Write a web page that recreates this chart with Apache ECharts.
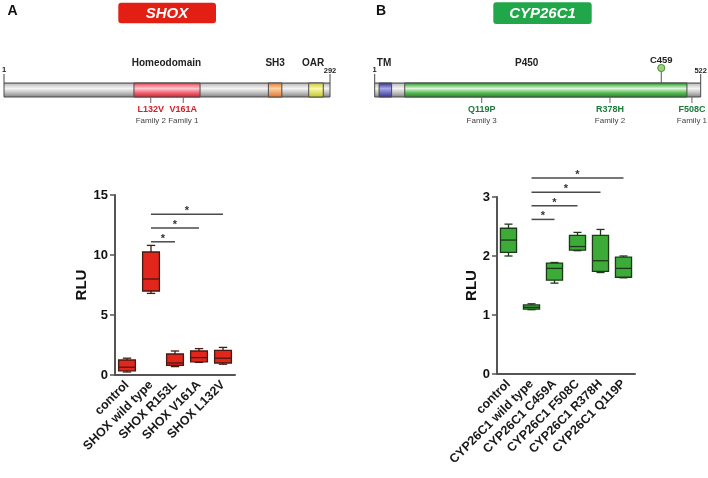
<!DOCTYPE html>
<html><head><meta charset="utf-8">
<script src="https://cdn.jsdelivr.net/npm/echarts@6/dist/echarts.min.js"></script>
<style>html,body{margin:0;padding:0;background:#fff}#c{width:708px;height:478px}</style>
</head><body><div id="c"></div>
<script>
// ---------- Data: luciferase assays ----------
const shoxCategories = ['control', 'SHOX wild type', 'SHOX R153L', 'SHOX V161A', 'SHOX L132V'];
// [min, Q1, median, Q3, max]
const shoxStats = [
  [0.25, 0.35, 0.65, 1.25, 1.4],
  [6.8, 7.0, 8.0, 10.25, 10.8],
  [0.7, 0.8, 1.0, 1.75, 2.0],
  [1.05, 1.1, 1.45, 2.0, 2.2],
  [0.9, 1.0, 1.4, 2.05, 2.3]
];
const shoxSigPairs = [[1, 2], [1, 3], [1, 4]];
const shoxSigLevels = [11.1, 12.25, 13.4];
const shoxTicks = [0, 5, 10, 15];

const cypCategories = ['control', 'CYP26C1 wild type', 'CYP26C1 C459A', 'CYP26C1 F508C', 'CYP26C1 R378H', 'CYP26C1 Q119P'];
const cypStats = [
  [2.0, 2.06, 2.27, 2.47, 2.54],
  [1.09, 1.10, 1.13, 1.17, 1.19],
  [1.54, 1.59, 1.79, 1.88, 1.89],
  [2.09, 2.10, 2.16, 2.35, 2.40],
  [1.72, 1.74, 1.92, 2.35, 2.45],
  [1.63, 1.64, 1.79, 1.98, 2.0]
];
const cypSigPairs = [[1, 2], [1, 3], [1, 4], [1, 5]];
const cypSigLevels = [2.62, 2.85, 3.08, 3.32];
const cypTicks = [0, 1, 2, 3];

// ---------- Data: protein schematics ----------
const shoxLength = 292;
const shoxDomainNames = ['Homeodomain', 'SH3', 'OAR'];
const shoxDomainStart = [117, 237, 273];
const shoxDomainEnd = [176, 249, 286];
const shoxDomainLabelPos = [146, 243, 277];
const shoxMutNames = ['L132V', 'V161A'];
const shoxMutPos = [132, 161];
const shoxMutFamily = ['Family 2', 'Family 1'];

const cypLength = 522;
const cypDomainNames = ['TM', 'P450'];
const cypDomainStart = [8, 49];
const cypDomainEnd = [28, 500];
const cypDomainLabelPos = [16, 244];
const cypMutNames = ['Q119P', 'R378H', 'F508C'];
const cypMutPos = [172, 377, 508];
const cypMutFamily = ['Family 3', 'Family 2', 'Family 1'];
const cypSiteNames = ['C459'];
const cypSitePos = [459];

// ---------- Styles ----------
const FONT = '"Liberation Sans", Arial, sans-serif';
const G = echarts.graphic;
function grad(stops) { return new G.LinearGradient(0, 0, 0, 1, stops.map(c => ({ offset: c[0], color: c[1] }))); }
const greyGrad = () => grad([[0, '#7a7a7a'], [0.12, '#c6c6c6'], [0.4, '#f4f4f4'], [0.7, '#bdbdbd'], [1, '#7c7c7c']]);
const shoxDomainGrads = [
  () => grad([[0, '#d8202e'], [0.14, '#f06a78'], [0.4, '#ffc8ce'], [0.7, '#f0606e'], [1, '#cf1c2c']]),
  () => grad([[0, '#e0742e'], [0.4, '#ffd0a0'], [1, '#e0702a']]),
  () => grad([[0, '#c4c42a'], [0.4, '#fafaa8'], [1, '#c2c226']])
];
const cypDomainGrads = [
  () => grad([[0, '#2a2a88'], [0.4, '#a8a8e4'], [1, '#303096']]),
  () => grad([[0, '#187a26'], [0.14, '#58b85a'], [0.4, '#def6da'], [0.7, '#56b852'], [1, '#1e8226']])
];
const mutColorA = '#d3202a';
const mutColorB = '#1b7a3c';

// ---------- Renderers ----------
const txt = (x, y, text, fill, size, weight) => ({ type: 'text', x: x, y: y, style: { text: text, fill: fill, fontSize: size, fontWeight: weight || 'normal', fontFamily: FONT, align: 'center', verticalAlign: 'middle', textAlign: 'center', textVerticalAlign: 'middle' } });
function backboneSeries(gi, len) {
  return {
    type: 'custom', xAxisIndex: gi, yAxisIndex: gi, silent: true, clip: false, animation: false,
    data: [[1, len]],
    renderItem: function (p, api) {
      const a = api.coord([api.value(0), 1]);
      const b = api.coord([api.value(1), 0]);
      return { type: 'group', children: [
        { type: 'rect', shape: { x: a[0], y: a[1], width: b[0] - a[0], height: b[1] - a[1] }, style: { fill: greyGrad(), stroke: '#4a4a4a', lineWidth: 1 } },
        { type: 'line', shape: { x1: a[0], y1: a[1] - 9, x2: a[0], y2: a[1] }, style: { stroke: '#444', lineWidth: 1 } },
        { type: 'line', shape: { x1: b[0], y1: a[1] - 9, x2: b[0], y2: a[1] }, style: { stroke: '#444', lineWidth: 1 } },
        txt(a[0], a[1] - 13, String(api.value(0)), '#222', 7.5, 'bold'),
        txt(b[0], a[1] - 12, String(api.value(1)), '#222', 7.5, 'bold')
      ] };
    }
  };
}
function domainSeries(gi, starts, ends, grads) {
  return {
    type: 'custom', xAxisIndex: gi, yAxisIndex: gi, silent: true, clip: false, animation: false,
    data: starts.map((s, i) => [s, ends[i]]),
    renderItem: function (p, api) {
      const a = api.coord([api.value(0), 1]);
      const b = api.coord([api.value(1), 0]);
      return { type: 'rect', shape: { x: a[0], y: a[1], width: b[0] - a[0], height: b[1] - a[1] }, style: { fill: grads[p.dataIndex](), stroke: '#4a4a4a', lineWidth: 1 } };
    }
  };
}
function labelSeries(gi, pos, names, dy, size) {
  return {
    type: 'custom', xAxisIndex: gi, yAxisIndex: gi, silent: true, clip: false, animation: false,
    data: pos.map(v => [v, 1]),
    renderItem: function (p, api) {
      const a = api.coord([api.value(0), 1]);
      return txt(a[0], a[1] + dy, names[p.dataIndex], '#222', size, 'bold');
    }
  };
}
function mutationSeries(gi, pos, names, fams, color) {
  return {
    type: 'custom', xAxisIndex: gi, yAxisIndex: gi, silent: true, clip: false, animation: false,
    data: pos.map(v => [v, 0]),
    renderItem: function (p, api) {
      const a = api.coord([api.value(0), 0]);
      return { type: 'group', children: [
        { type: 'line', shape: { x1: a[0], y1: a[1], x2: a[0], y2: a[1] + 6 }, style: { stroke: '#666', lineWidth: 1 } },
        txt(a[0], a[1] + 12.5, names[p.dataIndex], color, 9, 'bold'),
        txt(a[0], a[1] + 24, fams[p.dataIndex], '#444', 8)
      ] };
    }
  };
}
function siteSeries(gi, pos, names) {
  return {
    type: 'custom', xAxisIndex: gi, yAxisIndex: gi, silent: true, clip: false, animation: false,
    data: pos.map(v => [v, 1]),
    renderItem: function (p, api) {
      const a = api.coord([api.value(0), 1]);
      return { type: 'group', children: [
        { type: 'line', shape: { x1: a[0], y1: a[1], x2: a[0], y2: a[1] - 12 }, style: { stroke: '#555', lineWidth: 1 } },
        { type: 'circle', shape: { cx: a[0], cy: a[1] - 15, r: 3.6 }, style: { fill: '#9ad07a', stroke: '#4d8f3d', lineWidth: 1 } },
        txt(a[0], a[1] - 23, names[p.dataIndex], '#222', 9.5, 'bold')
      ] };
    }
  };
}
function boxSeries(gi, stats, fill, stroke) {
  return {
    type: 'custom', xAxisIndex: gi, yAxisIndex: gi, silent: true, animation: false, clip: false,
    data: stats.map((s, i) => [i].concat(s)),
    renderItem: function (p, api) {
      const i = api.value(0);
      const band = api.size([1, 0])[0];
      const w = band * 0.7, cw = w * 0.5;
      const cx = api.coord([i, 0])[0];
      const y = v => api.coord([i, v])[1];
      const mn = y(api.value(1)), q1 = y(api.value(2)), md = y(api.value(3)), q3 = y(api.value(4)), mx = y(api.value(5));
      const ls = { stroke: stroke, lineWidth: 1.3 };
      return { type: 'group', children: [
        { type: 'line', shape: { x1: cx, y1: mx, x2: cx, y2: q3 }, style: ls },
        { type: 'line', shape: { x1: cx, y1: q1, x2: cx, y2: mn }, style: ls },
        { type: 'line', shape: { x1: cx - cw / 2, y1: mx, x2: cx + cw / 2, y2: mx }, style: ls },
        { type: 'line', shape: { x1: cx - cw / 2, y1: mn, x2: cx + cw / 2, y2: mn }, style: ls },
        { type: 'rect', shape: { x: cx - w / 2, y: q3, width: w, height: q1 - q3 }, style: { fill: fill, stroke: stroke, lineWidth: 1.3 } },
        { type: 'line', shape: { x1: cx - w / 2, y1: md, x2: cx + w / 2, y2: md }, style: ls }
      ] };
    }
  };
}
function sigSeries(gi, pairs, levels) {
  return {
    type: 'custom', xAxisIndex: gi, yAxisIndex: gi, silent: true, animation: false, clip: false,
    data: pairs.map((pr, i) => [pr[0], levels[i], pr[1]]),
    renderItem: function (p, api) {
      const a = api.coord([api.value(0), api.value(1)]);
      const b = api.coord([api.value(2), api.value(1)]);
      return { type: 'group', children: [
        { type: 'line', shape: { x1: a[0], y1: a[1], x2: b[0], y2: b[1] }, style: { stroke: '#4a4a4a', lineWidth: 1.5 } },
        txt((a[0] + b[0]) / 2, a[1] - 3, '*', '#333', 11, 'bold')
      ] };
    }
  };
}

// ---------- Axes ----------
const hiddenX = (gi, max) => ({ gridIndex: gi, type: 'value', min: 1, max: max, show: false });
const hiddenY = (gi) => ({ gridIndex: gi, type: 'value', min: 0, max: 1, show: false });
const axisLineStyle = { color: '#555', width: 2 };
function catAxis(gi, cats) {
  return {
    gridIndex: gi, type: 'category', data: cats, boundaryGap: true,
    axisLine: { lineStyle: axisLineStyle },
    axisTick: { alignWithLabel: true, length: 5, lineStyle: { color: '#555', width: 1.5 } },
    axisLabel: { rotate: 45, interval: 0, fontSize: 12.5, fontWeight: 'bold', color: '#1a1a1a', fontFamily: FONT, margin: 8 }
  };
}
function valAxis(gi, ticks, gap) {
  return {
    gridIndex: gi, type: 'value', min: ticks[0], max: ticks[ticks.length - 1], interval: ticks[1] - ticks[0],
    axisLine: { show: true, lineStyle: axisLineStyle },
    axisTick: { show: true, length: 5, lineStyle: { color: '#555', width: 1.5 } },
    splitLine: { show: false },
    axisLabel: { fontSize: 13, fontWeight: 'bold', color: '#111', fontFamily: FONT, margin: 7 },
    name: 'RLU', nameLocation: 'middle', nameGap: gap,
    nameTextStyle: { fontSize: 15, fontWeight: 'bold', color: '#111', fontFamily: FONT }
  };
}

const chart = echarts.init(document.getElementById('c'), null, { renderer: 'canvas' });
chart.setOption({
  animation: false,
  backgroundColor: '#fff',
  grid: [
    { left: 4, top: 83, width: 326, height: 14 },
    { left: 374.7, top: 83, width: 326, height: 14 },
    { left: 115, top: 195, width: 120, height: 180 },
    { left: 497, top: 197, width: 138, height: 177 }
  ],
  xAxis: [hiddenX(0, shoxLength), hiddenX(1, cypLength), catAxis(2, shoxCategories), catAxis(3, cypCategories)],
  yAxis: [hiddenY(0), hiddenY(1), valAxis(2, shoxTicks, 26), valAxis(3, cypTicks, 17)],
  graphic: [
    { type: 'text', x: 12.5, y: 11, style: { text: 'A', fill: '#111', font: 'bold 14px ' + FONT, textAlign: 'center', textVerticalAlign: 'middle' } },
    { type: 'text', x: 381, y: 11, style: { text: 'B', fill: '#111', font: 'bold 14px ' + FONT, textAlign: 'center', textVerticalAlign: 'middle' } },
    { type: 'rect', shape: { x: 118.3, y: 2.7, width: 97.7, height: 20.6, r: 3 }, style: { fill: '#e31e13' } },
    { type: 'text', x: 167, y: 13.5, style: { text: 'SHOX', fill: '#fff', font: 'italic bold 15px ' + FONT, textAlign: 'center', textVerticalAlign: 'middle' } },
    { type: 'rect', shape: { x: 493.3, y: 2.3, width: 98.4, height: 21.7, r: 3 }, style: { fill: '#22a64a' } },
    { type: 'text', x: 542.5, y: 13.5, style: { text: 'CYP26C1', fill: '#fff', font: 'italic bold 15px ' + FONT, textAlign: 'center', textVerticalAlign: 'middle' } }
  ],
  series: [
    backboneSeries(0, shoxLength),
    domainSeries(0, shoxDomainStart, shoxDomainEnd, shoxDomainGrads),
    labelSeries(0, shoxDomainLabelPos, shoxDomainNames, -20, 10),
    mutationSeries(0, shoxMutPos, shoxMutNames, shoxMutFamily, mutColorA),
    backboneSeries(1, cypLength),
    domainSeries(1, cypDomainStart, cypDomainEnd, cypDomainGrads),
    labelSeries(1, cypDomainLabelPos, cypDomainNames, -19.5, 10),
    mutationSeries(1, cypMutPos, cypMutNames, cypMutFamily, mutColorB),
    siteSeries(1, cypSitePos, cypSiteNames),
    boxSeries(2, shoxStats, '#e2261c', '#4a1a12'),
    sigSeries(2, shoxSigPairs, shoxSigLevels),
    boxSeries(3, cypStats, '#3dab38', '#1c3a1a'),
    sigSeries(3, cypSigPairs, cypSigLevels)
  ]
});
</script>
</body></html>
